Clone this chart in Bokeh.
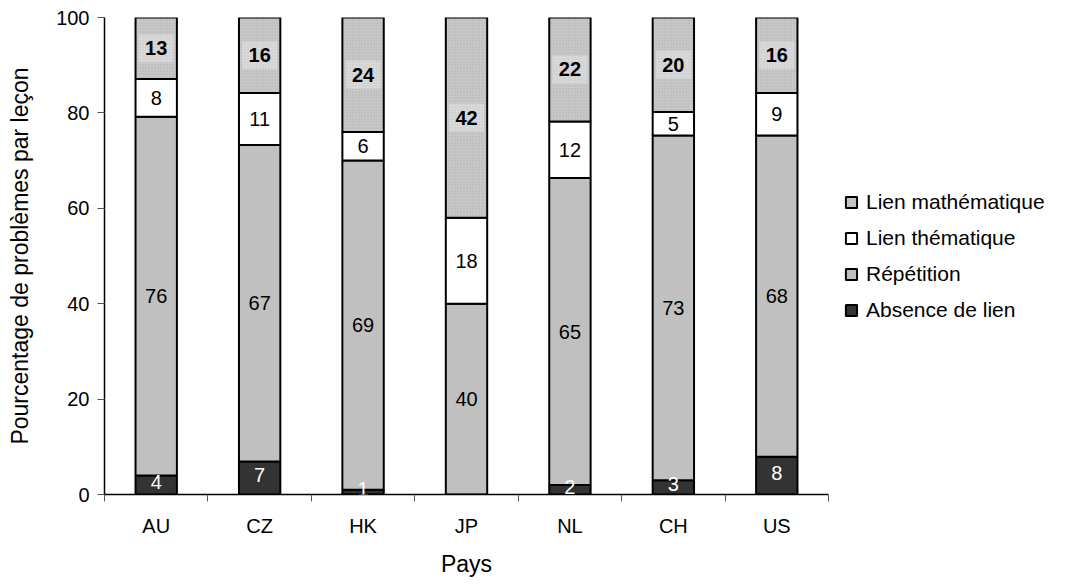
from bokeh.plotting import figure
from bokeh.models import (ColumnDataSource, FixedTicker, Legend, LegendItem,
                          LabelSet, Range1d)
from bokeh.core.properties import value
from bokeh.embed import file_html
from bokeh.resources import INLINE
import numpy as np

# ---- data ----
countries = ["AU", "CZ", "HK", "JP", "NL", "CH", "US"]
absence = [4, 7, 1, 0, 2, 3, 8]
repetition = [76, 67, 69, 40, 65, 73, 68]
thematique = [8, 11, 6, 18, 12, 5, 9]
mathematique = [13, 16, 24, 42, 22, 20, 16]
series_names = ["Absence de lien", "Répétition", "Lien thématique", "Lien mathématique"]
y_ticks = [0, 20, 40, 60, 80, 100]
x_title = "Pays"
y_title = "Pourcentage de problèmes par leçon"

FONT = "Liberation Sans"

raw = np.array([absence, repetition, thematique, mathematique], dtype=float)
totals = raw.sum(axis=0)
heights = raw / totals * 100.0
tops = np.cumsum(heights, axis=0)
bottoms = tops - heights
xpos = np.arange(len(countries)) + 0.5

p = figure(frame_width=724, frame_height=477, x_range=Range1d(0, len(countries)),
           y_range=Range1d(0, 100), output_backend="svg", toolbar_location=None,
           min_border_left=104, min_border_right=0, min_border_top=17,
           min_border_bottom=90)
p.outline_line_color = None
p.xgrid.visible = False
p.ygrid.visible = False

styles = [
    dict(fill_color="#333333"),
    dict(fill_color="#c0c0c0"),
    dict(fill_color="#ffffff"),
    dict(fill_color="#c8c8c8", hatch_pattern="dot", hatch_color="#b4b4b4",
         hatch_scale=3, hatch_weight=1),
]

renderers = []
for i, name in enumerate(series_names):
    src = ColumnDataSource(dict(x=xpos, bottom=bottoms[i], top=tops[i]))
    r = p.vbar(x="x", bottom="bottom", top="top", width=0.4, source=src,
               line_color="#000000", line_width=2, **styles[i])
    renderers.append(r)

# value labels
for i in range(len(series_names)):
    keep = raw[i] > 0
    src = ColumnDataSource(dict(
        x=xpos[keep],
        y=((bottoms[i] + tops[i]) / 2)[keep],
        t=[str(int(v)) for v in raw[i][keep]],
    ))
    kw = dict(x="x", y="y", text="t", source=src, text_align="center",
              text_baseline="middle", text_font=value(FONT),
              text_font_size=value("20px"))
    if i == 0:
        kw.update(text_color=value("#ffffff"), y_offset=3)
    elif i == 3:
        p.rect(x="x", y="y", width=0.34, height=28, height_units="screen",
               source=src, fill_color="#d9d9d9", line_color=None,
               hatch_pattern="dot", hatch_color="#c8c8c8", hatch_scale=3)
        kw.update(text_color=value("#000000"), text_font_style=value("bold"))
    else:
        kw.update(text_color=value("#000000"))
    p.add_layout(LabelSet(**kw))

# axes
p.xaxis.ticker = FixedTicker(ticks=list(xpos), minor_ticks=list(range(len(countries) + 1)))
p.xaxis.major_label_overrides = {float(x): c for x, c in zip(xpos, countries)}
p.xaxis.major_tick_out = 0
p.xaxis.major_tick_in = 0
p.xaxis.minor_tick_out = 7
p.xaxis.minor_tick_in = 0
p.xaxis.axis_label = x_title

p.yaxis.ticker = FixedTicker(ticks=y_ticks, minor_ticks=[])
p.yaxis.major_tick_out = 7
p.yaxis.major_tick_in = 0
p.yaxis.minor_tick_out = 0
p.yaxis.minor_tick_in = 0
p.yaxis.axis_label = y_title

for ax in (p.xaxis, p.yaxis):
    ax.axis_line_color = "#000000"
    ax.axis_line_width = 1.5
    ax.major_tick_line_color = "#555555"
    ax.minor_tick_line_color = "#555555"
    ax.major_label_text_font = FONT
    ax.major_label_text_font_size = "20px"
    ax.major_label_text_color = "#000000"
    ax.axis_label_text_font = FONT
    ax.axis_label_text_font_size = "23px"
    ax.axis_label_text_font_style = "normal"
    ax.axis_label_text_color = "#000000"

p.xaxis.major_label_standoff = 13
p.xaxis.axis_label_standoff = 11
p.yaxis.major_label_standoff = 8
p.yaxis.axis_label_standoff = 20

legend = Legend(
    items=[LegendItem(label=series_names[i], renderers=[renderers[i]]) for i in [3, 2, 1, 0]],
    location="center_left",
    label_text_font=FONT, label_text_font_size="21px", label_text_color="#000000",
    glyph_width=14, glyph_height=14, label_height=22, spacing=12,
    label_standoff=8, padding=4, margin=16,
    border_line_color=None, background_fill_alpha=0,
)
p.add_layout(legend, "right")

open("out.html", "w").write(file_html(p, INLINE))
